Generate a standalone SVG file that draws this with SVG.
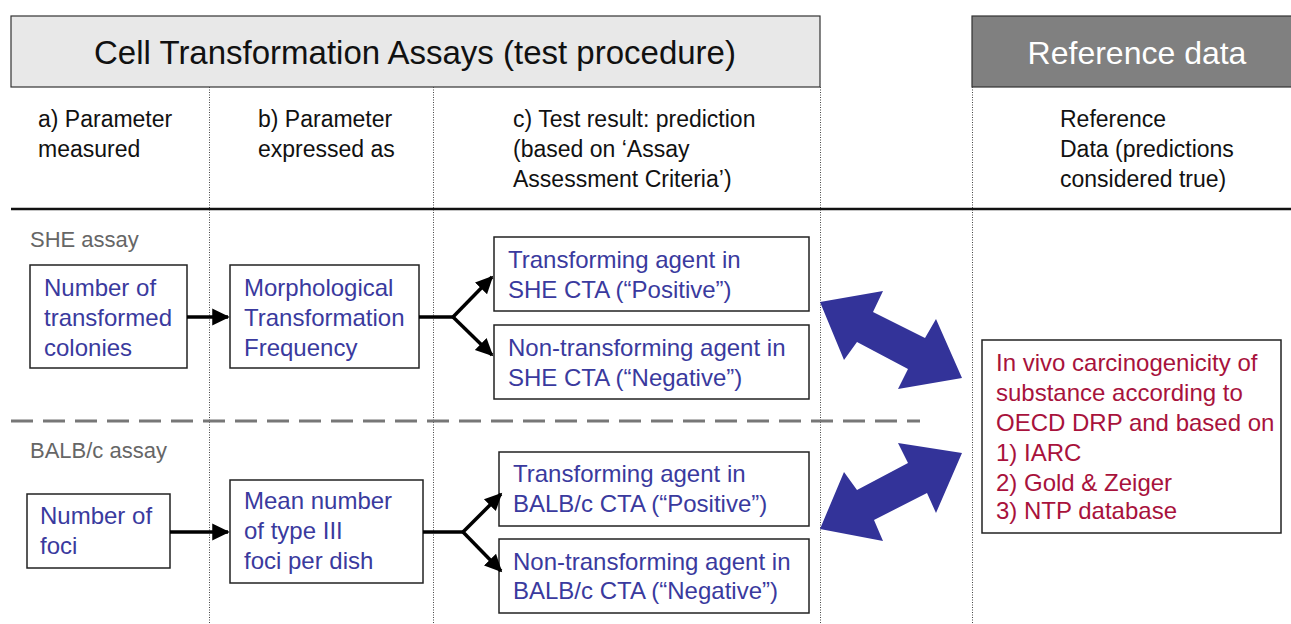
<svg xmlns="http://www.w3.org/2000/svg" width="1291" height="624" viewBox="0 0 1291 624">
<style>
text{font-family:"Liberation Sans",Arial,sans-serif}
.hd{font-size:23px;fill:#111}
.bx{fill:#fff;stroke:#222;stroke-width:1.5}
.bt{font-size:24px;fill:#3a3a9e}
.rt{font-size:24px;fill:#a8123c}
.lab{font-size:22px;fill:#666}
.dot{stroke:#444;stroke-width:1;stroke-dasharray:1 1.5;fill:none}
.ar{stroke:#000;stroke-width:3.5;fill:none}
.big{fill:#333399}
</style>
<defs>
<marker id="ah" markerWidth="6" markerHeight="6" refX="4.5" refY="3" orient="auto" markerUnits="strokeWidth">
<path d="M0,0.6 L5,3 L0,5.4 Z" fill="#000"/>
</marker>
</defs>
<rect width="1291" height="624" fill="#fff"/>
<g id="header-cta">
<rect x="11" y="16" width="809" height="71" fill="#e8e8e8" stroke="#333" stroke-width="1.2"/>
<text x="415" y="64" font-size="33" text-anchor="middle" fill="#111">Cell Transformation Assays (test procedure)</text>
</g>
<g id="header-ref">
<rect x="972" y="16" width="330" height="71" fill="#808080" stroke="#333" stroke-width="1.2"/>
<text x="1137" y="64" font-size="32" text-anchor="middle" fill="#fff">Reference data</text>
</g>
<g id="grid">
<line class="dot" x1="209.5" y1="87" x2="209.5" y2="624"/>
<line class="dot" x1="433.5" y1="87" x2="433.5" y2="624"/>
<line class="dot" x1="820.5" y1="87" x2="820.5" y2="624"/>
<line class="dot" x1="972.5" y1="87" x2="972.5" y2="624"/>
<line x1="11" y1="209" x2="1291" y2="209" stroke="#111" stroke-width="2.5"/>
<line x1="11" y1="421" x2="920" y2="421" stroke="#777" stroke-width="3" stroke-dasharray="22 10"/>
</g>
<g id="col-headings">
<text class="hd" x="38" y="127">a) Parameter</text>
<text class="hd" x="38" y="157">measured</text>
<text class="hd" x="258" y="127">b) Parameter</text>
<text class="hd" x="258" y="157">expressed as</text>
<text class="hd" x="513" y="127">c) Test result: prediction</text>
<text class="hd" x="513" y="157">(based on ‘Assay</text>
<text class="hd" x="513" y="187">Assessment Criteria’)</text>
<text class="hd" x="1060" y="127">Reference</text>
<text class="hd" x="1060" y="157">Data (predictions</text>
<text class="hd" x="1060" y="187">considered true)</text>
</g>
<g id="label-she"><text class="lab" x="30" y="247">SHE assay</text></g>
<g id="label-balb"><text class="lab" x="30" y="458">BALB/c assay</text></g>
<g id="she-measured">
<rect class="bx" x="30" y="265" width="157" height="103"/>
<text class="bt" x="44" y="296">Number of</text>
<text class="bt" x="44" y="326">transformed</text>
<text class="bt" x="44" y="356">colonies</text>
</g>
<g id="she-expressed">
<rect class="bx" x="230" y="265" width="189" height="103"/>
<text class="bt" x="244" y="296">Morphological</text>
<text class="bt" x="244" y="326">Transformation</text>
<text class="bt" x="244" y="356">Frequency</text>
</g>
<g id="she-positive">
<rect class="bx" x="494" y="237" width="315" height="74"/>
<text class="bt" x="508" y="268">Transforming agent in</text>
<text class="bt" x="508" y="298">SHE CTA (“Positive”)</text>
</g>
<g id="she-negative">
<rect class="bx" x="494" y="325" width="315" height="74"/>
<text class="bt" x="508" y="356">Non-transforming agent in</text>
<text class="bt" x="508" y="386">SHE CTA (“Negative”)</text>
</g>
<g id="balb-measured">
<rect class="bx" x="27" y="494" width="143" height="74"/>
<text class="bt" x="40" y="524">Number of</text>
<text class="bt" x="40" y="554">foci</text>
</g>
<g id="balb-expressed">
<rect class="bx" x="230" y="480" width="193" height="103"/>
<text class="bt" x="244" y="509">Mean number</text>
<text class="bt" x="244" y="539">of type III</text>
<text class="bt" x="244" y="569">foci per dish</text>
</g>
<g id="balb-positive">
<rect class="bx" x="499" y="452" width="310" height="74"/>
<text class="bt" x="513" y="482">Transforming agent in</text>
<text class="bt" x="513" y="512">BALB/c CTA (“Positive”)</text>
</g>
<g id="balb-negative">
<rect class="bx" x="499" y="539" width="310" height="74"/>
<text class="bt" x="513" y="570">Non-transforming agent in</text>
<text class="bt" x="513" y="599">BALB/c CTA (“Negative”)</text>
</g>
<g id="reference">
<rect class="bx" x="982" y="340" width="299" height="193"/>
<text class="rt" x="996" y="371">In vivo carcinogenicity of</text>
<text class="rt" x="996" y="401">substance according to</text>
<text class="rt" x="996" y="431">OECD DRP and based on</text>
<text class="rt" x="996" y="461">1) IARC</text>
<text class="rt" x="996" y="491">2) Gold &amp; Zeiger</text>
<text class="rt" x="996" y="519">3) NTP database</text>
</g>
<g id="connectors">
<line class="ar" x1="187" y1="317" x2="228" y2="317" marker-end="url(#ah)"/>
<polyline class="ar" points="419,317 453,317"/>
<line class="ar" x1="453" y1="317" x2="492" y2="277" marker-end="url(#ah)"/>
<line class="ar" x1="453" y1="317" x2="492" y2="355" marker-end="url(#ah)"/>
<line class="ar" x1="170" y1="532" x2="228" y2="532" marker-end="url(#ah)"/>
<polyline class="ar" points="423,532 463,532"/>
<line class="ar" x1="463" y1="532" x2="501" y2="494" marker-end="url(#ah)"/>
<line class="ar" x1="463" y1="532" x2="501" y2="571" marker-end="url(#ah)"/>
<polygon class="big" points="820,302 883,291 873,312 925,338 936,319 962,378 898,389 908,369 857,342 844,360"/>
<polygon class="big" points="820,529 844,472 857,490 908,463 898,443 962,453 936,513 927,493 874,520 883,541"/>
</g>
</svg>
